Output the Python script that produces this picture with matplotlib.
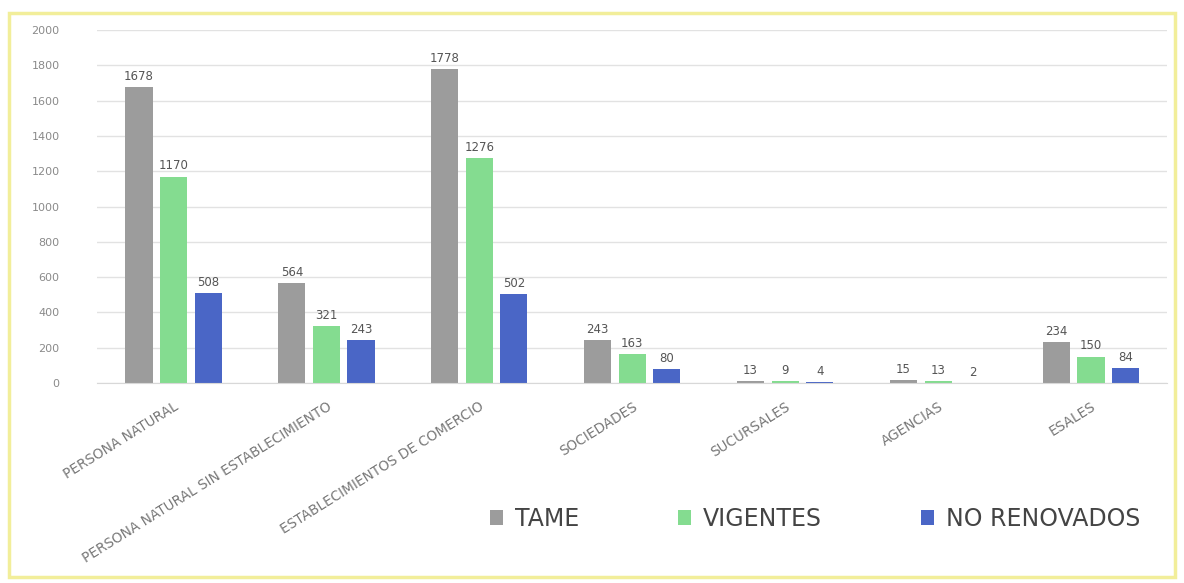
import matplotlib.pyplot as plt
import matplotlib.patches as patches
import numpy as np

categorias = ['PERSONA NATURAL', 'PERSONA NATURAL SIN ESTABLECIMIENTO',
              'ESTABLECIMIENTOS DE COMERCIO', 'SOCIEDADES', 'SUCURSALES',
              'AGENCIAS', 'ESALES']
tame = [1678, 564, 1778, 243, 13, 15, 234]
vigentes = [1170, 321, 1276, 163, 9, 13, 150]
no_renovados = [508, 243, 502, 80, 4, 2, 84]

series = ['TAME', 'VIGENTES', 'NO RENOVADOS']
colores = ['#9c9c9c', '#84dc90', '#4a66c6']

fig = plt.figure(figsize=(11.84, 5.83), dpi=100)
ax = fig.add_axes([0.082, 0.343, 0.904, 0.6055])

# yellow frame of the original picture
fig.patches.append(patches.Rectangle((0.008, 0.01), 0.984, 0.968, transform=fig.transFigure,
                                     fill=False, edgecolor='#f2ee9a', linewidth=2.5))

x = np.arange(len(categorias))
w = 0.177
paso = 0.226
for i, (vals, nombre, c) in enumerate(zip([tame, vigentes, no_renovados], series, colores)):
    barras = ax.bar(x + (i - 1) * paso, vals, w, color=c, label=nombre, zorder=2)
    ax.bar_label(barras, padding=3, fontsize=8.5, color='#555555')

ax.set_ylim(0, 2000)
ax.set_xlim(-0.5, len(categorias) - 0.5)
ax.set_yticks(np.arange(0, 2001, 200))
ax.yaxis.grid(True, color='#e2e2e2', linewidth=1, zorder=0)
for s in ['top', 'right', 'left']:
    ax.spines[s].set_visible(False)
ax.spines['bottom'].set_color('#d8d8d8')
ax.tick_params(axis='y', length=0, pad=27, labelsize=8, labelcolor='#8a8a8a')
ax.tick_params(axis='x', length=0, pad=12)
ax.set_xticks(x)
ax.set_xticklabels(categorias, rotation=32, ha='right', rotation_mode='anchor',
                   fontsize=9.8, color='#777777')

ax.legend(loc='center', bbox_to_anchor=(0.671, -0.385), ncol=3, frameon=False,
          fontsize=17, handlelength=0.55, handleheight=0.55, handletextpad=0.5,
          columnspacing=4.2, labelcolor='#444444')

fig.savefig('out.png', dpi=100)
